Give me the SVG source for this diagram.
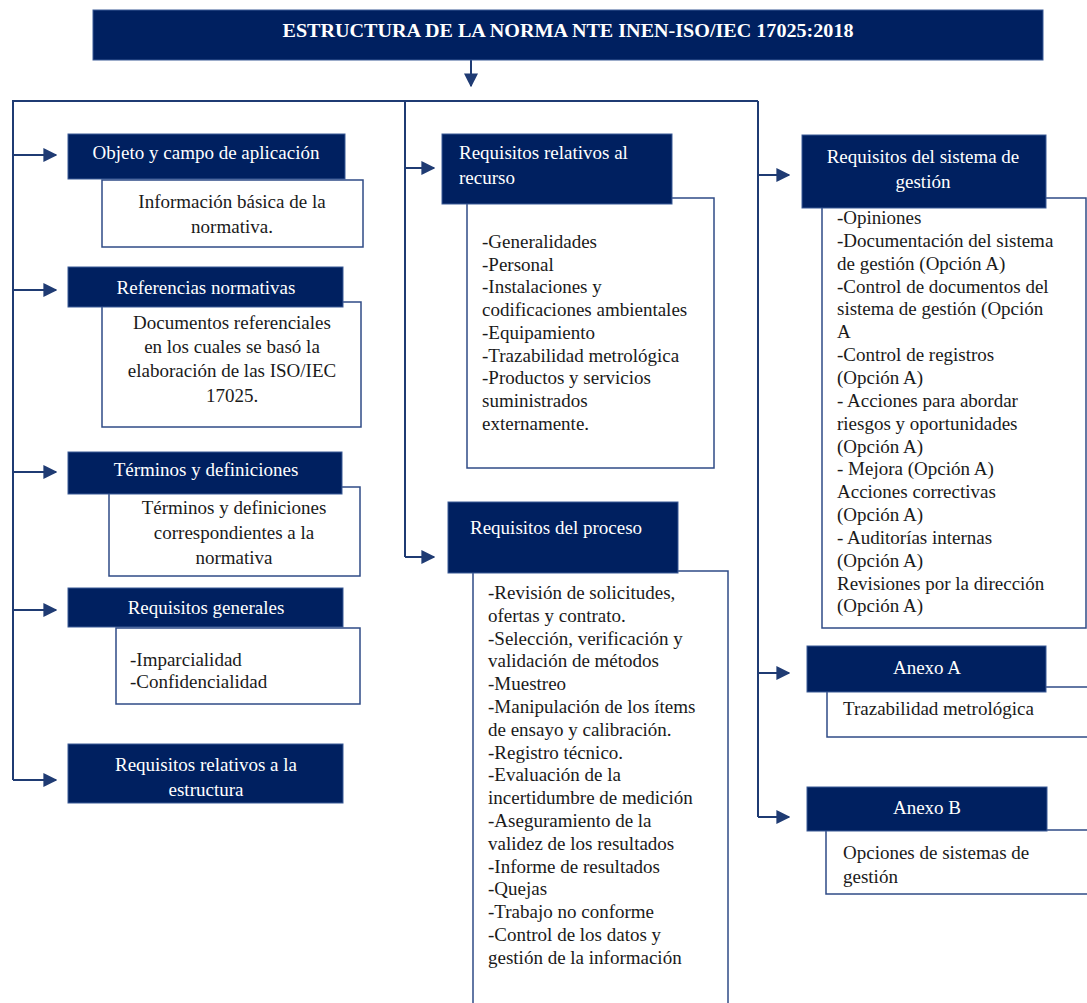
<svg xmlns="http://www.w3.org/2000/svg" width="1087" height="1003" viewBox="0 0 1087 1003">
<style>
.hd{fill:#002060;stroke:#3a5a96;stroke-width:1}
.bx{fill:#ffffff;stroke:#2f4b86;stroke-width:1.5}
.ht{font-family:"Liberation Serif","Times New Roman",serif;font-size:19px;fill:#ffffff}
.bt{font-family:"Liberation Serif","Times New Roman",serif;font-size:19px;fill:#1a1a1a}
.c{text-anchor:middle}
.ln{fill:none;stroke:#1f3b73;stroke-width:2}
</style>
<defs>
<marker id="ah" viewBox="0 0 10 10" refX="9" refY="5" markerWidth="6" markerHeight="6" markerUnits="userSpaceOnUse" orient="auto">
<path d="M0,0 L10,5 L0,10 z" fill="#1f3b73"/>
</marker>
<marker id="ahb" viewBox="0 0 10 10" refX="9" refY="5" markerWidth="7" markerHeight="7" orient="auto">
<path d="M0,0 L10,5 L0,10 z" fill="#1f3b73"/>
</marker>
</defs>
<rect width="1087" height="1003" fill="#ffffff"/>

<g id="connectors">
<path class="ln" d="M471,60 V86" marker-end="url(#ahb)"/>
<path class="ln" d="M12,101 H758"/>
<path class="ln" d="M13,101 V780"/>
<path class="ln" d="M13,155 H56" marker-end="url(#ahb)"/>
<path class="ln" d="M13,290 H56" marker-end="url(#ahb)"/>
<path class="ln" d="M13,472 H56" marker-end="url(#ahb)"/>
<path class="ln" d="M13,610 H56" marker-end="url(#ahb)"/>
<path class="ln" d="M13,780 H56" marker-end="url(#ahb)"/>
<path class="ln" d="M405,101 V557"/>
<path class="ln" d="M405,168 H434" marker-end="url(#ahb)"/>
<path class="ln" d="M405,557 H434" marker-end="url(#ahb)"/>
<path class="ln" d="M758,101 V817"/>
<path class="ln" d="M758,175 H789" marker-end="url(#ahb)"/>
<path class="ln" d="M758,673 H789" marker-end="url(#ahb)"/>
<path class="ln" d="M758,817 H789" marker-end="url(#ahb)"/>
</g>

<g id="title">
<rect x="93" y="10" width="950" height="50" fill="#002060" stroke="#3a5a96" stroke-width="1"/>
<text x="568" y="37" class="ht c" font-weight="bold" font-size="18" textLength="571" lengthAdjust="spacingAndGlyphs">ESTRUCTURA DE LA NORMA NTE INEN-ISO/IEC 17025:2018</text>
</g>

<g id="objeto">
<rect class="bx" x="102" y="180" width="261" height="67"/>
<rect class="hd" x="68" y="134" width="277" height="45"/>
<text class="ht c" x="206" y="159">Objeto y campo de aplicación</text>
<text class="bt c" x="232" y="208">Información básica de la</text>
<text class="bt c" x="232" y="233">normativa.</text>
</g>

<g id="referencias">
<rect class="bx" x="102" y="302" width="259" height="125"/>
<rect class="hd" x="68" y="267" width="275" height="40"/>
<text class="ht c" x="206" y="294">Referencias normativas</text>
<text class="bt c" x="232" y="329">Documentos referenciales</text>
<text class="bt c" x="232" y="353">en los cuales se basó la</text>
<text class="bt c" x="232" y="377">elaboración de las ISO/IEC</text>
<text class="bt c" x="232" y="402">17025.</text>
</g>

<g id="terminos">
<rect class="bx" x="109" y="487" width="251" height="89"/>
<rect class="hd" x="68" y="452" width="274" height="42"/>
<text class="ht c" x="206" y="476">Términos y definiciones</text>
<text class="bt c" x="234" y="514">Términos y definiciones</text>
<text class="bt c" x="234" y="539">correspondientes a la</text>
<text class="bt c" x="234" y="564">normativa</text>
</g>

<g id="generales">
<rect class="bx" x="116" y="628" width="244" height="76"/>
<rect class="hd" x="68" y="588" width="275" height="39"/>
<text class="ht c" x="206" y="614">Requisitos generales</text>
<text class="bt" x="130" y="666">-Imparcialidad</text>
<text class="bt" x="130" y="688">-Confidencialidad</text>
</g>

<g id="estructura">
<rect class="hd" x="68" y="744" width="275" height="59"/>
<text class="ht c" x="206" y="771">Requisitos relativos a la</text>
<text class="ht c" x="206" y="796">estructura</text>
</g>

<g id="recurso">
<rect class="bx" x="467" y="198" width="247" height="270"/>
<rect class="hd" x="442" y="134" width="230" height="70"/>
<text class="ht" x="459" y="159">Requisitos relativos al</text>
<text class="ht" x="459" y="184">recurso</text>
<text class="bt" x="482" y="248">-Generalidades<tspan x="482" dy="22.7">-Personal</tspan><tspan x="482" dy="22.7">-Instalaciones y</tspan><tspan x="482" dy="22.7">codificaciones ambientales</tspan><tspan x="482" dy="22.7">-Equipamiento</tspan><tspan x="482" dy="22.7">-Trazabilidad metrológica</tspan><tspan x="482" dy="22.7">-Productos y servicios</tspan><tspan x="482" dy="22.7">suministrados</tspan><tspan x="482" dy="22.7">externamente.</tspan></text>
</g>

<g id="proceso">
<rect class="bx" x="473" y="571" width="255" height="450"/>
<rect class="hd" x="448" y="502" width="230" height="71"/>
<text class="ht" x="470" y="534">Requisitos del proceso</text>
<text class="bt" x="488" y="599">-Revisión de solicitudes,<tspan x="488" dy="22.8">ofertas y contrato.</tspan><tspan x="488" dy="22.8">-Selección, verificación y</tspan><tspan x="488" dy="22.8">validación de métodos</tspan><tspan x="488" dy="22.8">-Muestreo</tspan><tspan x="488" dy="22.8">-Manipulación de los ítems</tspan><tspan x="488" dy="22.8">de ensayo y calibración.</tspan><tspan x="488" dy="22.8">-Registro técnico.</tspan><tspan x="488" dy="22.8">-Evaluación de la</tspan><tspan x="488" dy="22.8">incertidumbre de medición</tspan><tspan x="488" dy="22.8">-Aseguramiento de la</tspan><tspan x="488" dy="22.8">validez de los resultados</tspan><tspan x="488" dy="22.8">-Informe de resultados</tspan><tspan x="488" dy="22.8">-Quejas</tspan><tspan x="488" dy="22.8">-Trabajo no conforme</tspan><tspan x="488" dy="22.8">-Control de los datos y</tspan><tspan x="488" dy="22.8">gestión de la información</tspan></text>
</g>

<g id="sistema">
<rect class="bx" x="822" y="198" width="264" height="430"/>
<rect class="hd" x="802" y="135" width="244" height="73"/>
<text class="ht c" x="923" y="163">Requisitos del sistema de</text>
<text class="ht c" x="923" y="188">gestión</text>
<text class="bt" x="837" y="224">-Opiniones<tspan x="837" dy="22.85">-Documentación del sistema</tspan><tspan x="837" dy="22.85">de gestión (Opción A)</tspan><tspan x="837" dy="22.85">-Control de documentos del</tspan><tspan x="837" dy="22.85">sistema de gestión (Opción</tspan><tspan x="837" dy="22.85">A</tspan><tspan x="837" dy="22.85">-Control de registros</tspan><tspan x="837" dy="22.85">(Opción A)</tspan><tspan x="837" dy="22.85">- Acciones para abordar</tspan><tspan x="837" dy="22.85">riesgos y oportunidades</tspan><tspan x="837" dy="22.85">(Opción A)</tspan><tspan x="837" dy="22.85">- Mejora (Opción A)</tspan><tspan x="837" dy="22.85">Acciones correctivas</tspan><tspan x="837" dy="22.85">(Opción A)</tspan><tspan x="837" dy="22.85">- Auditorías internas</tspan><tspan x="837" dy="22.85">(Opción A)</tspan><tspan x="837" dy="22.85">Revisiones por la dirección</tspan><tspan x="837" dy="22.85">(Opción A)</tspan></text>
</g>

<g id="anexoA">
<rect class="bx" x="827" y="687" width="280" height="50"/>
<rect class="hd" x="807" y="646" width="239" height="46"/>
<text class="ht c" x="927" y="674">Anexo A</text>
<text class="bt" x="843" y="715">Trazabilidad metrológica</text>
</g>

<g id="anexoB">
<rect class="bx" x="826" y="830" width="280" height="64"/>
<rect class="hd" x="807" y="787" width="240" height="44"/>
<text class="ht c" x="927" y="814">Anexo B</text>
<text class="bt" x="843" y="859">Opciones de sistemas de</text>
<text class="bt" x="843" y="883">gestión</text>
</g>
</svg>
